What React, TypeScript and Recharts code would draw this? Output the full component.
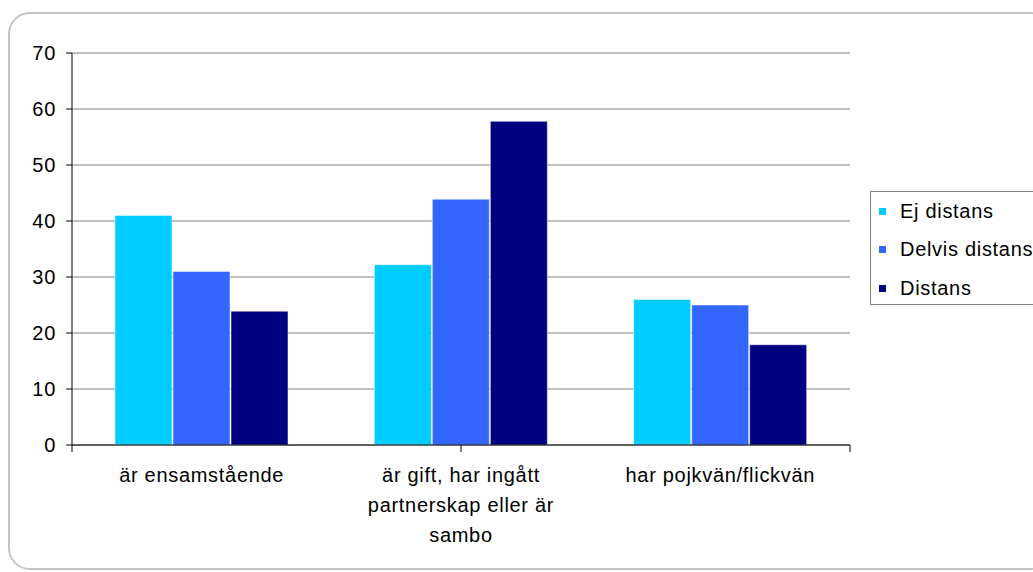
import React from 'react';
import {
  BarChart,
  Bar,
  XAxis,
  YAxis,
  CartesianGrid,
  Legend,
  ReferenceLine,
} from 'recharts';

const categories = [
  'är ensamstående',
  'är gift, har ingått partnerskap eller är sambo',
  'har pojkvän/flickvän',
];
const ejDistans = [41, 32.2, 26];
const delvisDistans = [31, 43.9, 25];
const distans = [23.9, 57.8, 17.9];
const yTicks = [0, 10, 20, 30, 40, 50, 60, 70];

const seriesNames = ['Ej distans', 'Delvis distans', 'Distans'];
const seriesKeys = ['ej', 'delvis', 'distans'];
const seriesColors = ['#00CCFF', '#3366FF', '#000080'];

const data = categories.map((name, i) => ({
  name,
  ej: ejDistans[i],
  delvis: delvisDistans[i],
  distans: distans[i],
}));

const font = '"Liberation Sans", Arial, sans-serif';
const textStyle = { fontFamily: font, fontSize: 20, letterSpacing: 0.7 };

let ctx: CanvasRenderingContext2D | null = null;
function measure(s: string) {
  if (!ctx) {
    ctx = document.createElement('canvas').getContext('2d');
    if (ctx) ctx.font = '20px "Liberation Sans"';
  }
  const w = ctx ? ctx.measureText(s).width : s.length * 9;
  return w + s.length * 0.7;
}

function wrap(text: string, maxWidth: number) {
  const words = text.split(' ');
  const lines: string[] = [];
  let cur = '';
  words.forEach((w) => {
    const next = cur ? cur + ' ' + w : w;
    if (cur && measure(next) > maxWidth) {
      lines.push(cur);
      cur = w;
    } else {
      cur = next;
    }
  });
  if (cur) lines.push(cur);
  return lines;
}

function CategoryTick(props: any) {
  const { x, y, payload } = props;
  const lines = wrap(String(payload.value), 195);
  return (
    <text x={x} y={y} textAnchor="middle" fill="#000" style={textStyle}>
      {lines.map((l, i) => (
        <tspan key={i} x={x} dy={i === 0 ? 14 : 30}>
          {l}
        </tspan>
      ))}
    </text>
  );
}

const EmptyTick = () => <g />;

function LegendBox() {
  return (
    <div
      style={{
        width: 175,
        height: 114,
        border: '1px solid #808080',
        background: '#fff',
        boxSizing: 'border-box',
        paddingTop: 0,
      }}
    >
      {seriesNames.map((n, i) => (
        <div
          key={n}
          style={{ display: 'flex', alignItems: 'center', height: 38.5, ...textStyle, color: '#000' }}
        >
          <span
            style={{
              display: 'inline-block',
              width: 7,
              height: 7,
              background: seriesColors[i],
              marginLeft: 8,
              marginRight: 14,
            }}
          />
          {n}
        </div>
      ))}
    </div>
  );
}

export default function App() {
  return (
    <div style={{ position: 'absolute', left: 0, top: 0, width: 1033, height: 572, overflow: 'hidden' }}>
      <div
        style={{
          position: 'absolute',
          left: 8,
          top: 12,
          width: 1040,
          height: 554,
          border: '2px solid #c4c4c4',
          borderRadius: 22,
        }}
      />
      <div style={{ position: 'absolute', left: 0, top: 0 }}>
        <BarChart
          width={1033}
          height={572}
          data={data}
          margin={{ top: 53, right: 183, bottom: 0, left: 0 }}
          barCategoryGap={43}
          barGap={1}
        >
          <CartesianGrid vertical={false} stroke="#808080" />
          <ReferenceLine x={3} stroke="#808080" />
          <XAxis
            type="number"
            domain={[0, 3]}
            ticks={[0, 1, 2, 3]}
            height={1}
            tick={<EmptyTick />}
            tickLine={{ stroke: '#000' }}
            tickSize={7}
            stroke="#000"
            allowDataOverflow
          />
          <XAxis
            xAxisId="cat"
            dataKey="name"
            height={126}
            axisLine={false}
            tickLine={false}
            tickSize={0}
            tickMargin={22}
            interval={0}
            tick={<CategoryTick />}
          />
          <YAxis
            domain={[0, 70]}
            ticks={yTicks}
            width={72}
            stroke="#000"
            tickSize={6}
            tickMargin={10}
            tick={{ fill: '#000', ...textStyle }}
          />
          {seriesKeys.map((k, i) => (
            <Bar
              key={k}
              xAxisId="cat"
              dataKey={k}
              name={seriesNames[i]}
              fill={seriesColors[i]}
              stroke="#ffffff"
              strokeOpacity={0.5}
              isAnimationActive={false}
            />
          ))}
          <Legend
            layout="vertical"
            align="center"
            verticalAlign="middle"
            content={<LegendBox />}
            wrapperStyle={{ position: 'absolute', left: 870, top: 191, width: 175 }}
          />
        </BarChart>
      </div>
    </div>
  );
}
